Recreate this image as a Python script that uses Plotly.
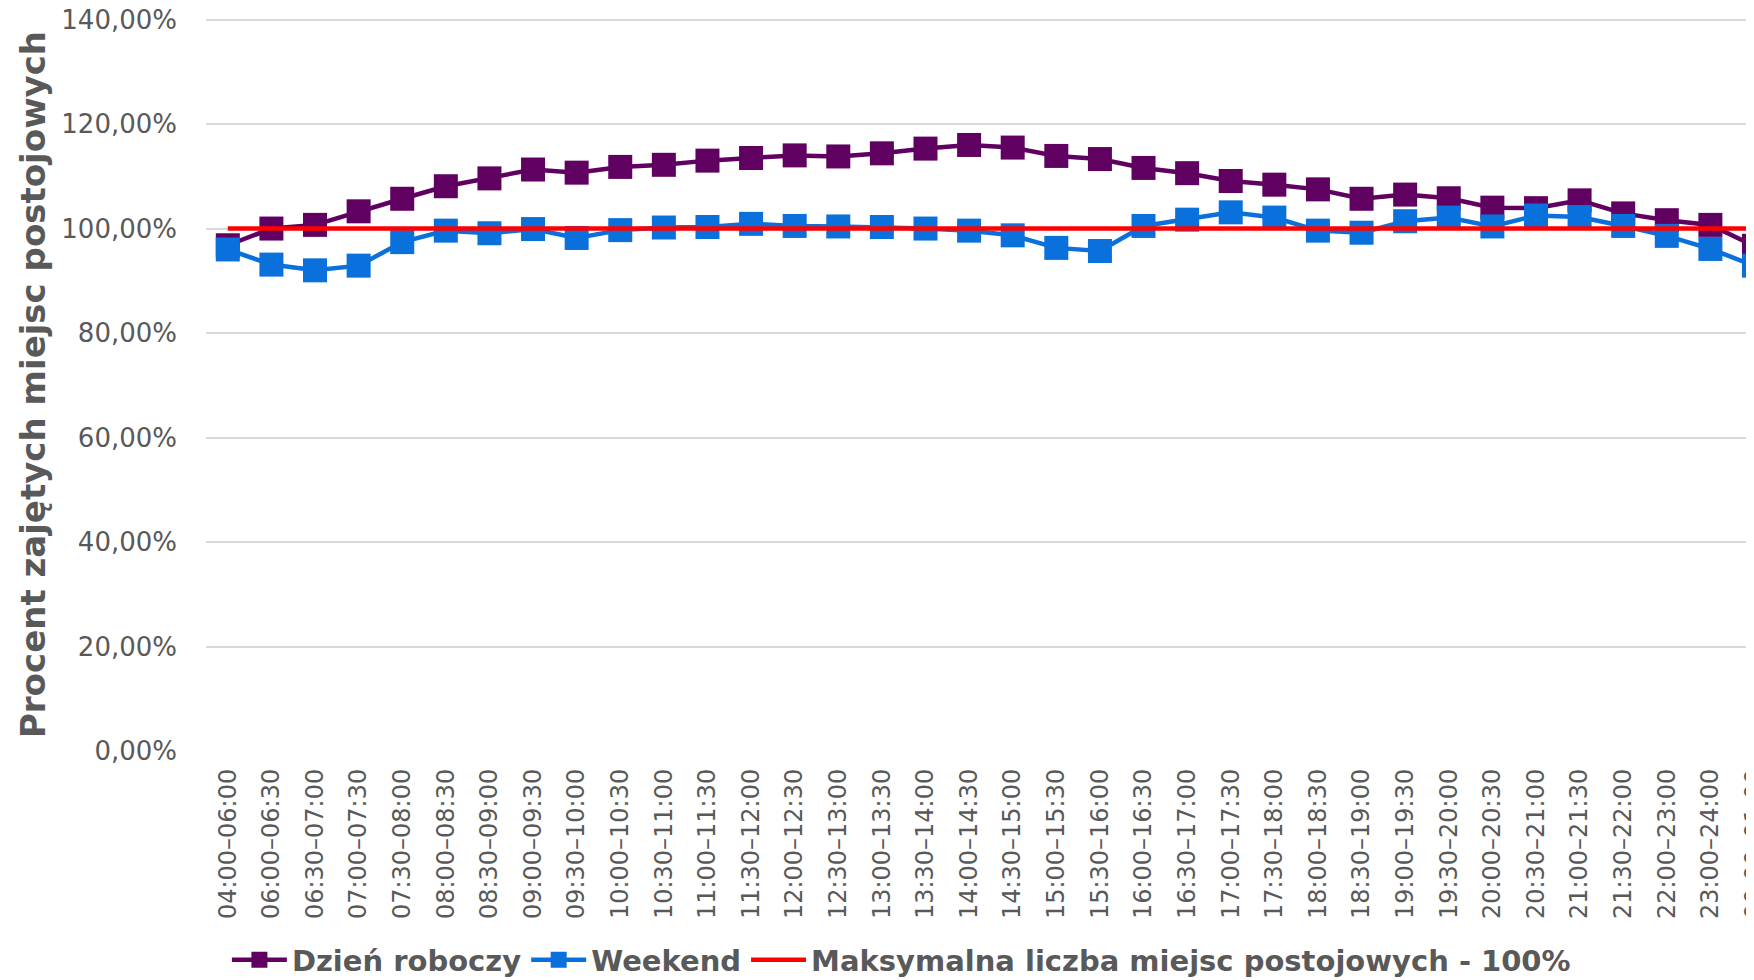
import plotly.graph_objects as go

categories = [
    "04:00–06:00", "06:00–06:30", "06:30–07:00", "07:00–07:30", "07:30–08:00",
    "08:00–08:30", "08:30–09:00", "09:00–09:30", "09:30–10:00", "10:00–10:30",
    "10:30–11:00", "11:00–11:30", "11:30–12:00", "12:00–12:30", "12:30–13:00",
    "13:00–13:30", "13:30–14:00", "14:00–14:30", "14:30–15:00", "15:00–15:30",
    "15:30–16:00", "16:00–16:30", "16:30–17:00", "17:00–17:30", "17:30–18:00",
    "18:00–18:30", "18:30–19:00", "19:00–19:30", "19:30–20:00", "20:00–20:30",
    "20:30–21:00", "21:00–21:30", "21:30–22:00", "22:00–23:00", "23:00–24:00",
    "00:00–01:00",
]

workday = [
    96.8, 100.0, 100.7, 103.3, 105.7, 108.1, 109.6, 111.3, 110.7, 111.8,
    112.2, 113.0, 113.5, 114.0, 113.8, 114.4, 115.3, 116.0, 115.5, 113.9,
    113.3, 111.6, 110.6, 109.1, 108.4, 107.5, 105.7, 106.5, 105.8, 104.0,
    103.9, 105.4, 102.9, 101.6, 100.7, 96.7,
]

weekend = [
    96.0, 93.1, 92.0, 92.9, 97.4, 99.6, 99.1, 99.9, 98.2, 99.7,
    100.2, 100.3, 100.9, 100.5, 100.4, 100.3, 100.0, 99.6, 98.7, 96.3,
    95.7, 100.5, 101.7, 103.1, 102.1, 99.6, 99.2, 101.4, 102.1, 100.4,
    102.5, 102.2, 100.5, 98.6, 96.1, 92.9,
]

max_capacity = [100.0] * len(categories)

y_ticks = [0, 20, 40, 60, 80, 100, 120, 140]
y_tick_labels = ["0,00%", "20,00%", "40,00%", "60,00%", "80,00%", "100,00%", "120,00%", "140,00%"]

names = ["Dzień roboczy", "Weekend", "Maksymalna liczba miejsc postojowych - 100%"]

GRAY = "#595959"

fig = go.Figure()
fig.add_trace(go.Scatter(
    x=categories, y=workday, name=names[0], mode="lines+markers",
    line=dict(color="#600060", width=4.5),
    marker=dict(symbol="square", size=24, color="#600060"),
))
fig.add_trace(go.Scatter(
    x=categories, y=weekend, name=names[1], mode="lines+markers",
    line=dict(color="#0A70DC", width=4.5),
    marker=dict(symbol="square", size=24, color="#0A70DC"),
))
fig.add_trace(go.Scatter(
    x=categories, y=max_capacity, name=names[2], mode="lines",
    line=dict(color="#FF0000", width=4.5),
))

fig.update_layout(
    width=1746, height=972,
    margin=dict(l=198, r=0, t=10, b=229, autoexpand=False),
    paper_bgcolor="white", plot_bgcolor="white",
    font=dict(family="DejaVu Sans", color=GRAY),
    showlegend=True,
    legend=dict(
        orientation="h", x=0.0135, xanchor="left", y=-0.285, yanchor="middle",
        font=dict(family="DejaVu Sans", size=29, color=GRAY, weight="bold"),
        itemwidth=55,
    ),
)

fig.update_xaxes(
    type="category", range=[-0.5, 35], automargin=False,
    tickangle=-90, tickfont=dict(size=24, color=GRAY),
    showgrid=False, showline=False, zeroline=False,
    ticklabelstandoff=12,
)
fig.update_yaxes(
    range=[0, 140.3], tickvals=y_ticks, ticktext=y_tick_labels, automargin=False,
    tickfont=dict(size=26, color=GRAY),
    showgrid=True, gridcolor="#D9D9D9", gridwidth=2,
    zeroline=False, showline=False,
    ticklabelstandoff=28, ticklabeloverflow="allow",
    title=dict(text="Procent zajętych miejsc postojowych",
               font=dict(family="DejaVu Sans", size=34, color=GRAY, weight="bold"),
               standoff=5),
)

fig.write_html("out.html")
